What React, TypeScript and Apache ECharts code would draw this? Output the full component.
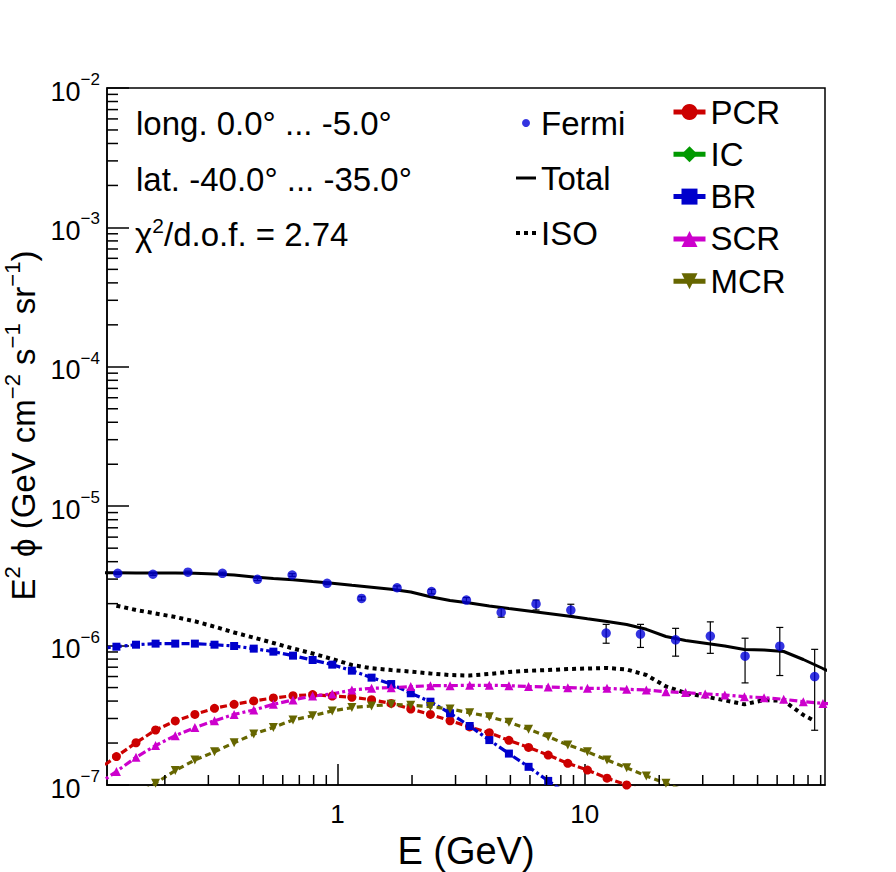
import React, { useEffect, useRef } from "react";
import * as echarts from "echarts";

// ---- Fermi data (E in GeV, flux in 1e-6 GeV cm^-2 s^-1 sr^-1)
const fermiE = [0.129, 0.179, 0.248, 0.342, 0.474, 0.655, 0.907, 1.25, 1.74, 2.4, 3.32, 4.59, 6.35, 8.78, 12.2, 16.8, 23.3, 32.2, 44.5, 61.5, 85.1];
const fermiFlux = [3.3, 3.25, 3.36, 3.3, 2.99, 3.21, 2.8, 2.18, 2.6, 2.44, 2.12, 1.73, 1.99, 1.8, 1.23, 1.21, 1.1, 1.17, 0.84, 0.99, 0.6];
const fermiLow = [3.24, 3.19, 3.3, 3.24, 2.93, 3.14, 2.74, 2.12, 2.52, 2.35, 2.03, 1.6, 1.8, 1.63, 1.04, 0.97, 0.84, 0.88, 0.54, 0.61, 0.247];
const fermiHigh = [3.36, 3.31, 3.42, 3.36, 3.05, 3.28, 2.86, 2.24, 2.68, 2.53, 2.21, 1.86, 2.12, 1.98, 1.42, 1.42, 1.33, 1.48, 1.13, 1.35, 0.94];

// ---- model energy grid (GeV)
const modelE = [0.1061, 0.1274, 0.1529, 0.1835, 0.2204, 0.2646, 0.3177, 0.3814, 0.4578, 0.5497, 0.66, 0.7925, 0.9515, 1.142, 1.372, 1.647, 1.977, 2.374, 2.85, 3.422, 4.109, 4.932, 5.923, 7.111, 8.537, 10.25, 12.3, 14.77, 17.74, 21.29, 25.56, 30.69, 36.85, 44.24, 53.12, 63.78, 76.56, 91.9, 110.4];

// ---- model components (1e-7 GeV cm^-2 s^-1 sr^-1), aligned with modelE
const totalV = [33.3, 33.28, 33.22, 33.18, 33.12, 33.01, 32.63, 32.1, 31.06, 30.25, 29.7, 28.83, 28.03, 27.12, 26.24, 25.39, 24.24, 22.4, 21.07, 20.21, 19.23, 18.43, 17.71, 17.0, 16.31, 15.57, 14.89, 14.17, 13.09, 11.62, 10.88, 10.4, 9.93, 9.38, 9.3, 9.07, 7.95, 6.85, 5.95];
const pcrV = [1.27, 1.6, 2.01, 2.48, 2.88, 3.21, 3.55, 3.79, 4.01, 4.21, 4.37, 4.45, 4.35, 4.26, 4.09, 3.85, 3.51, 3.21, 2.89, 2.61, 2.37, 2.09, 1.86, 1.64, 1.43, 1.28, 1.12, 1.0, 0.88, null, null, null, null, null, null, null, null, null, null];
const scrV = [1.0, 1.25, 1.58, 1.92, 2.26, 2.58, 2.89, 3.21, 3.45, 3.79, 4.07, 4.35, 4.5, 4.8, 4.94, 4.99, 5.08, 5.16, 5.16, 5.19, 5.19, 5.16, 5.08, 5.05, 4.99, 4.94, 4.94, 4.86, 4.8, 4.67, 4.6, 4.5, 4.42, 4.3, 4.23, 4.12, 3.96, 3.85, 3.78];
const brV = [9.5, 9.82, 10.15, 10.33, 10.33, 10.33, 10.15, 9.93, 9.51, 9.05, 8.47, 7.88, 7.3, 6.61, 5.89, 5.3, 4.55, 3.96, 3.27, 2.65, 2.1, 1.68, 1.35, 1.07, 0.86, null, null, null, null, null, null, null, null, null, null, null, null, null, null];
const mcrV = [null, null, 0.84, 1.03, 1.27, 1.51, 1.73, 2.01, 2.32, 2.59, 2.93, 3.14, 3.4, 3.59, 3.69, 3.79, 3.73, 3.65, 3.51, 3.3, 3.09, 2.82, 2.51, 2.22, 1.94, 1.73, 1.51, 1.33, 1.16, 1.03, 0.9, null, null, null, null, null, null, null, null];
const icV: (number | null)[] = [];

// ---- isotropic background
const isoE = [0.1274, 0.1529, 0.1835, 0.2204, 0.2646, 0.3177, 0.3814, 0.4578, 0.5497, 0.66, 0.7925, 0.9515, 1.142, 1.372, 1.647, 1.977, 2.374, 2.85, 3.422, 4.109, 4.932, 5.923, 7.111, 8.537, 10.25, 12.3, 14.77, 17.74, 21.29, 25.56, 30.69, 36.85, 44.24, 53.12, 63.78, 76.56, 85.1];
const isoV = [19.33, 18.0, 17.0, 16.04, 14.94, 13.67, 12.42, 11.41, 10.44, 9.53, 8.78, 8.01, 7.26, 6.88, 6.68, 6.51, 6.31, 6.15, 6.1, 6.26, 6.47, 6.6, 6.68, 6.79, 6.85, 6.91, 6.74, 6.15, 5.09, 4.57, 4.31, 4.05, 3.79, 4.07, 4.02, 3.18, 2.88];

// ---- axes
const xMin = 0.1167;
const xMax = 93.7;
const yMin = 1e-7;
const yMax = 1e-2;
const xMinorTicks = [0.2, 0.3, 0.4, 0.5, 0.6, 0.7, 0.8, 0.9, 2, 3, 4, 5, 6, 7, 8, 9, 20, 30, 40, 50, 60, 70, 80, 90];
const yMinorTicks = [2e-7, 3e-7, 4e-7, 5e-7, 6e-7, 7e-7, 8e-7, 9e-7, 2e-6, 3e-6, 4e-6, 5e-6, 6e-6, 7e-6, 8e-6, 9e-6, 2e-5, 3e-5, 4e-5, 5e-5, 6e-5, 7e-5, 8e-5, 9e-5, 2e-4, 3e-4, 4e-4, 5e-4, 6e-4, 7e-4, 8e-4, 9e-4, 2e-3, 3e-3, 4e-3, 5e-3, 6e-3, 7e-3, 8e-3, 9e-3];

const infoLines = ["long. 0.0° ... -5.0°", "lat. -40.0° ... -35.0°"];
const chiText = "{a|χ}{s|2}{a|/d.o.f. = 2.74}";

const FONT = "Liberation Sans";

function pairs(xs: number[], ys: (number | null)[], scale: number) {
  const out: number[][] = [];
  xs.forEach((x, i) => {
    const v = ys[i];
    if (v !== null && v !== undefined) out.push([x, v * scale]);
  });
  return out;
}

export default function App() {
  const ref = useRef<HTMLDivElement>(null);

  useEffect(() => {
    const chart = echarts.init(ref.current!, null, { renderer: "svg" });

    const compLine = (name: string, color: string, ys: (number | null)[], symbol: string, size: number, dash: number[], rotate = 0) => ({
      name,
      type: "line",
      data: pairs(modelE, ys, 1e-7),
      symbol,
      symbolSize: size,
      symbolRotate: rotate,
      showSymbol: true,
      showAllSymbol: true,
      clip: true,
      itemStyle: { color },
      lineStyle: { color, width: 3.2, type: dash },
      z: 3,
    });

    const option: any = {
      animation: false,
      backgroundColor: "#fff",
      textStyle: { fontFamily: FONT, color: "#000" },
      grid: {
        left: 107,
        right: 71,
        top: 88,
        bottom: 87,
        show: true,
        borderColor: "#000",
        borderWidth: 1.5,
        backgroundColor: "transparent",
        containLabel: false,
        outerBoundsMode: "none",
      },
      xAxis: {
        type: "log",
        logBase: 10,
        min: xMin,
        max: xMax,
        axisLine: { show: true, lineStyle: { color: "#000", width: 1.5 } },
        axisTick: { show: true, inside: true, length: 21, lineStyle: { color: "#000", width: 1.5 } },
        minorTick: { show: false },
        splitLine: { show: false },
        axisLabel: {
          show: true,
          margin: 16,
          fontSize: 26,
          fontFamily: FONT,
          color: "#000",
          showMinLabel: false,
          showMaxLabel: false,
          formatter: (v: number) => {
            const l = Math.log10(v);
            return Math.abs(l - Math.round(l)) < 1e-6 ? String(Math.round(v)) : "";
          },
        },
        name: "E (GeV)",
        nameLocation: "middle",
        nameGap: 39,
        nameTextStyle: { fontSize: 38, fontFamily: FONT, color: "#000" },
      },
      yAxis: {
        type: "log",
        logBase: 10,
        min: yMin,
        max: yMax,
        axisLine: { show: true, lineStyle: { color: "#000", width: 1.5 } },
        axisTick: { show: true, inside: true, length: 22, lineStyle: { color: "#000", width: 1.5 } },
        minorTick: { show: false },
        splitLine: { show: false },
        axisLabel: {
          show: true,
          margin: 7,
          color: "#000",
          formatter: (v: number) => {
            const e = Math.round(Math.log10(v));
            return "{b|10}{e|" + (e < 0 ? "\u2212" + -e : String(e)) + "}";
          },
          rich: {
            b: { fontSize: 27, fontFamily: FONT, color: "#000", lineHeight: 34, verticalAlign: "bottom" },
            e: { fontSize: 17, fontFamily: FONT, color: "#000", lineHeight: 18, verticalAlign: "top" },
          },
        },
        name: "{a|E}{s|2}{a| ϕ (GeV cm}{s|\u22122}{a| s}{s|\u22121}{a| sr}{s|\u22121}{a|)}",
        nameLocation: "middle",
        nameGap: 62,
        nameTextStyle: {
          color: "#000",
          padding: [0, 0, 0, 22],
          rich: {
            a: { fontSize: 33, fontFamily: FONT, color: "#000", lineHeight: 38, verticalAlign: "bottom" },
            s: { fontSize: 22, fontFamily: FONT, color: "#000", lineHeight: 22, verticalAlign: "top" },
          },
        },
      },
      legend: [
        {
          data: [
            { name: "Fermi" },
            { name: "Total", itemStyle: { opacity: 0 } },
            { name: "ISO", itemStyle: { opacity: 0 } },
          ],
          orient: "vertical",
          left: 514,
          top: 106.5,
          padding: 0,
          itemGap: 22,
          itemWidth: 20,
          itemHeight: 8,
          selectedMode: false,
          lineStyle: { width: "inherit" },
          textStyle: { fontSize: 33, fontFamily: FONT, color: "#000" },
        },
        {
          data: ["PCR", "IC", "BR", "SCR", "MCR"],
          orient: "vertical",
          left: 671,
          top: 95.5,
          padding: 0,
          itemGap: 9.3,
          itemWidth: 32,
          itemHeight: 20,
          selectedMode: false,
          lineStyle: { type: "solid", width: 5 },
          textStyle: { fontSize: 33, fontFamily: FONT, color: "#000" },
        },
      ],
      graphic: [
        {
          type: "text",
          x: 136,
          y: 123,
          silent: true,
          style: { text: infoLines[0], fontSize: 33, fontFamily: FONT, fill: "#000", verticalAlign: "middle", align: "left" },
        },
        {
          type: "text",
          x: 136,
          y: 179,
          silent: true,
          style: { text: infoLines[1], fontSize: 33, fontFamily: FONT, fill: "#000", verticalAlign: "middle", align: "left" },
        },
        {
          type: "text",
          x: 135,
          y: 233,
          silent: true,
          style: {
            text: chiText,
            verticalAlign: "middle",
            align: "left",
            rich: {
              a: { fontSize: 33, fontFamily: FONT, fill: "#000", lineHeight: 36, verticalAlign: "bottom" },
              s: { fontSize: 21, fontFamily: FONT, fill: "#000", lineHeight: 20, verticalAlign: "top" },
            },
          },
        },
      ],
      series: [
        {
          name: "Total",
          type: "line",
          data: pairs(modelE, totalV, 1e-7),
          symbol: "none",
          clip: true,
          itemStyle: { color: "#000" },
          lineStyle: { color: "#000", width: 3, type: "solid" },
          z: 4,
        },
        {
          name: "ISO",
          type: "line",
          data: pairs(isoE, isoV, 1e-7),
          symbol: "none",
          clip: true,
          itemStyle: { color: "#000" },
          lineStyle: { color: "#000", width: 4, type: [4, 4] },
          z: 3,
        },
        compLine("PCR", "#cc0000", pcrV, "circle", 9, [7, 3]),
        compLine("IC", "#009900", icV, "diamond", 9, [7, 3]),
        compLine("BR", "#0000cc", brV, "rect", 8, [8, 3, 3, 3]),
        compLine("SCR", "#cc00cc", scrV, "triangle", 9, [8, 3, 3, 3]),
        compLine("MCR", "#666600", mcrV, "triangle", 9, [6, 4], 180),
        {
          type: "custom",
          name: "FermiErr",
          silent: true,
          clip: true,
          z: 5,
          data: fermiE.map((e, i) => [e, fermiLow[i] * 1e-6, fermiHigh[i] * 1e-6]),
          encode: { x: 0, y: [1, 2] },
          renderItem: (params: any, api: any) => {
            const x = api.value(0);
            const lo = api.coord([x, api.value(1)]);
            const hi = api.coord([x, api.value(2)]);
            const st = { stroke: "#000", lineWidth: 1.2 };
            return {
              type: "group",
              children: [
                { type: "line", shape: { x1: lo[0], y1: lo[1], x2: hi[0], y2: hi[1] }, style: st },
                { type: "line", shape: { x1: lo[0] - 3.5, y1: lo[1], x2: lo[0] + 3.5, y2: lo[1] }, style: st },
                { type: "line", shape: { x1: hi[0] - 3.5, y1: hi[1], x2: hi[0] + 3.5, y2: hi[1] }, style: st },
              ],
            };
          },
        },
        {
          name: "Fermi",
          type: "scatter",
          data: pairs(fermiE, fermiFlux, 1e-6),
          symbol: "circle",
          symbolSize: 9.5,
          itemStyle: { color: "#0000d8" },
          z: 6,
        },
        {
          type: "custom",
          name: "xMinor",
          silent: true,
          clip: false,
          z: 10,
          data: xMinorTicks.map((v) => [v, 1e-5]),
          encode: { x: 0, y: 1 },
          renderItem: (params: any, api: any) => {
            const cs = params.coordSys;
            const px = api.coord([api.value(0), api.value(1)])[0];
            const yb = cs.y + cs.height;
            return { type: "line", shape: { x1: px, y1: yb, x2: px, y2: yb - 10 }, style: { stroke: "#000", lineWidth: 1.5 } };
          },
        },
        {
          type: "custom",
          name: "yMinor",
          silent: true,
          clip: false,
          z: 10,
          data: yMinorTicks.map((v) => [1, v]),
          encode: { x: 0, y: 1 },
          renderItem: (params: any, api: any) => {
            const cs = params.coordSys;
            const py = api.coord([api.value(0), api.value(1)])[1];
            return { type: "line", shape: { x1: cs.x, y1: py, x2: cs.x + 11, y2: py }, style: { stroke: "#000", lineWidth: 1.5 } };
          },
        },
      ],
    };

    chart.setOption(option);
    return () => chart.dispose();
  }, []);

  return (
    <div
      ref={ref}
      style={{ position: "fixed", left: 0, top: 0, width: 896, height: 872, background: "#fff" }}
    />
  );
}
